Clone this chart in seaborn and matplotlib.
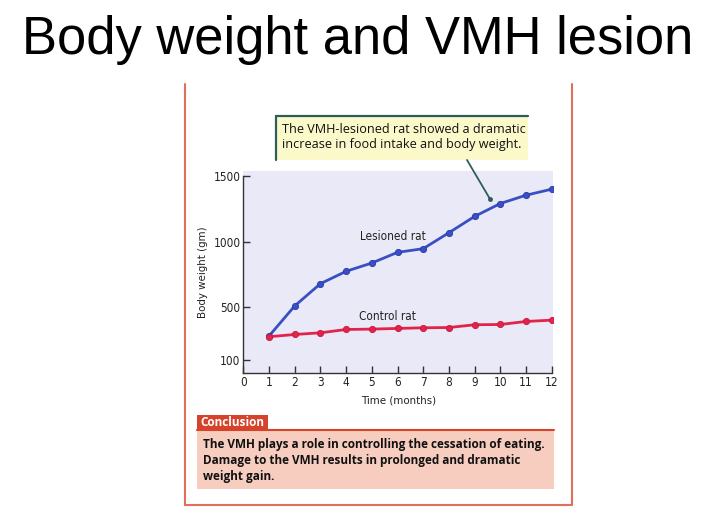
import matplotlib
matplotlib.use("Agg")
import matplotlib.pyplot as plt
import seaborn as sns
import pandas as pd
from matplotlib.lines import Line2D
from matplotlib.patches import Rectangle

months = [1, 2, 3, 4, 5, 6, 7, 8, 9, 10, 11, 12]
lesioned = [282, 511, 680, 774, 837, 918, 946, 1067, 1191, 1289, 1352, 1398]
control = [277, 294, 307, 332, 335, 340, 345, 347, 368, 370, 393, 403]
x_ticks = [0, 1, 2, 3, 4, 5, 6, 7, 8, 9, 10, 11, 12]
y_ticks = [100, 500, 1000, 1500]

title = "Body weight and VMH lesion"
callout = "The VMH-lesioned rat showed a dramatic\nincrease in food intake and body weight."
conclusion_head = "Conclusion"
conclusion = ("The VMH plays a role in controlling the cessation of eating.\n"
              "Damage to the VMH results in prolonged and dramatic\n"
              "weight gain.")

df = pd.DataFrame({
    "Time": months * 2,
    "Weight": lesioned + control,
    "Group": ["Lesioned rat"] * len(months) + ["Control rat"] * len(months),
})

sns.set_style("white")
plt.rcParams["font.family"] = ["DejaVu Sans"]
plt.rcParams["font.stretch"] = "condensed"

W, H = 716, 529
fig = plt.figure(figsize=(W / 100, H / 100), dpi=100)
fig.patch.set_facecolor("white")

def fx(px):
    return px / W

def fy(py):
    return 1 - py / H

# axes
ax = fig.add_axes([fx(243.3), fy(373.2), (553 - 243.3) / W, (373.2 - 171) / H])
ax.set_facecolor("#e9e9f7")
sns.lineplot(data=df, x="Time", y="Weight", hue="Group",
             palette={"Lesioned rat": "#3a4fc4", "Control rat": "#e2234b"},
             marker="o", markersize=4.5, linewidth=2.0, markeredgewidth=0.6,
             ax=ax, legend=False)
for ln in ax.lines:
    c = ln.get_color()
    ln.set_markeredgecolor("#2a3aa8" if c == "#3a4fc4" else "#c81a3e")

ax.set_xlim(0, 12.05)
ax.set_ylim(0, 1536)
ax.set_xticks(x_ticks)
ax.set_xticklabels([str(t) for t in x_ticks])
ax.set_yticks(y_ticks)
ax.set_yticklabels([str(t) for t in y_ticks])
ax.tick_params(axis="both", direction="in", length=5, width=1.0, color="#333333",
               labelsize=8.5, labelcolor="#222222", pad=2,
               left=True, bottom=True)
for s in ["top", "right"]:
    ax.spines[s].set_visible(False)
for s in ["left", "bottom"]:
    ax.spines[s].set_color("#333333")
    ax.spines[s].set_linewidth(1.0)
ax.spines["left"].set_bounds(0, 1500)
ax.spines["bottom"].set_bounds(0, 12)
ax.set_xlabel("Time (months)", fontsize=8.2, color="#222222", labelpad=5)
ax.set_ylabel("Body weight (gm)", fontsize=8.2, color="#222222", labelpad=4)

ax.text(5.81, 1037, "Lesioned rat", fontsize=8.5, color="#222222", ha="center", va="center")
ax.text(5.62, 429, "Control rat", fontsize=8.5, color="#222222", ha="center", va="center")

# title
fig.text(fx(22), fy(40), title, fontsize=37.8, family="Liberation Sans", stretch="normal",
         ha="left", va="center", color="black")

# red panel border
border = "#e0705e"
fig.add_artist(Line2D([fx(185), fx(185)], [fy(84), fy(505)], color=border, lw=1.5))
fig.add_artist(Line2D([fx(572), fx(572)], [fy(84), fy(505)], color=border, lw=1.5))
fig.add_artist(Line2D([fx(185), fx(572)], [fy(505), fy(505)], color=border, lw=1.5))

# callout box
teal = "#2f5d5e"
fig.add_artist(Rectangle((fx(276), fy(160)), fx(528) - fx(276), fy(116) - fy(160),
                         facecolor="#fbf8c9", edgecolor="none"))
fig.add_artist(Line2D([fx(276), fx(528)], [fy(116), fy(116)], color=teal, lw=1.6))
fig.add_artist(Line2D([fx(276), fx(276)], [fy(116), fy(160)], color=teal, lw=1.6))
fig.text(fx(282), fy(137), callout, fontsize=9.05, family="Open Sans", stretch="normal",
         ha="left", va="center", color="#111111", linespacing=1.2)
fig.add_artist(Line2D([fx(467), fx(490)], [fy(160), fy(199)], color=teal, lw=1.3))
fig.add_artist(Line2D([fx(490)], [fy(199)], color=teal, marker="o", markersize=2.5))

# conclusion
fig.add_artist(Rectangle((fx(197), fy(489)), fx(554) - fx(197), fy(429.5) - fy(489),
                         facecolor="#f7cdbf", edgecolor="none"))
fig.add_artist(Line2D([fx(197), fx(554)], [fy(429.5), fy(429.5)], color="#d4432a", lw=1.5))
fig.add_artist(Rectangle((fx(197), fy(429.5)), fx(268) - fx(197), fy(415) - fy(429.5),
                         facecolor="#d4432a", edgecolor="none"))
fig.text(fx(200), fy(422.5), conclusion_head, fontsize=8.5, family="Open Sans", stretch="normal",
         fontweight="bold", ha="left", va="center", color="white")
fig.text(fx(203), fy(460.5), conclusion, fontsize=8.5, family="Open Sans", stretch="normal",
         fontweight="bold", ha="left", va="center", color="#111111", linespacing=1.3)

fig.savefig("out.png", dpi=100)
